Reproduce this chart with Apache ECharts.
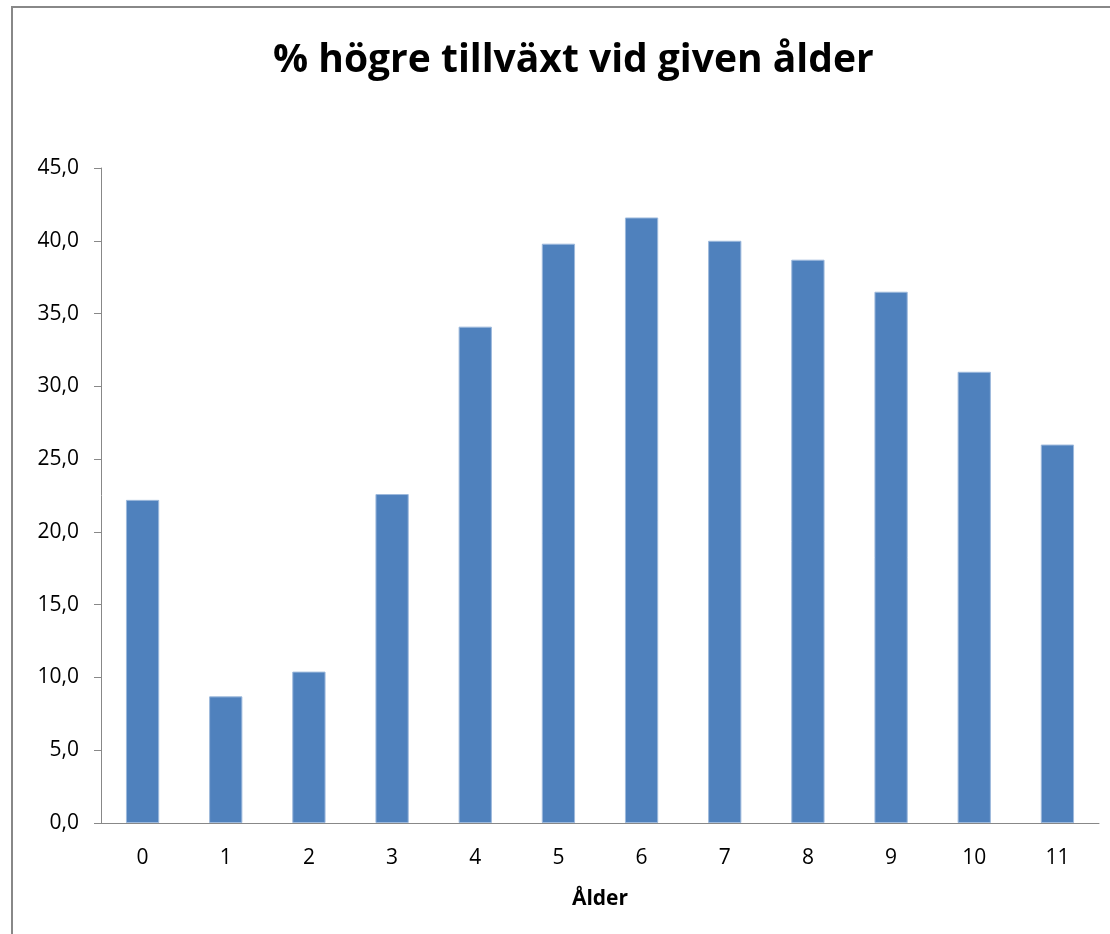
<!DOCTYPE html>
<html>
<head>
<meta charset="utf-8">
<script src="https://cdn.jsdelivr.net/npm/echarts@6/dist/echarts.min.js"></script>
<style>
  html, body { margin: 0; padding: 0; background: #fff; }
  #chart { width: 1110px; height: 934px; }
</style>
</head>
<body>
<div id="chart"></div>
<script>
const ages = ["0", "1", "2", "3", "4", "5", "6", "7", "8", "9", "10", "11"];
const growth = [22.2, 8.7, 10.4, 22.6, 34.1, 39.8, 41.6, 40.0, 38.7, 36.5, 31.0, 26.0];

const font = "'Open Sans', 'Noto Sans', sans-serif";

const chart = echarts.init(document.getElementById("chart"));
chart.setOption({
  animation: false,
  backgroundColor: "#fff",
  title: {
    text: "% högre tillväxt vid given ålder",
    left: 268,
    top: 36,
    textStyle: { fontFamily: font, fontWeight: "bold", fontSize: 39, color: "#000" },
  },
  graphic: [
    {
      type: "rect",
      shape: { x: 12, y: 7, width: 1200, height: 1000 },
      style: { fill: "none", stroke: "#888", lineWidth: 2 },
      silent: true,
    },
  ],
  grid: { left: 101, right: 11, top: 168, bottom: 111 },
  xAxis: {
    type: "category",
    data: ages,
    name: "Ålder",
    nameLocation: "middle",
    nameGap: 66,
    nameTextStyle: { fontFamily: font, fontWeight: "bold", fontSize: 21, color: "#000" },
    axisLine: { lineStyle: { color: "#888", width: 1 } },
    axisTick: { length: 9, lineStyle: { color: "#888" } },
    axisLabel: { fontFamily: font, fontSize: 21, color: "#000", margin: 25 },
  },
  yAxis: {
    type: "value",
    min: 0,
    max: 45,
    interval: 5,
    axisLine: { show: true, lineStyle: { color: "#888", width: 1 } },
    axisTick: { show: true, length: 7, lineStyle: { color: "#888" } },
    splitLine: { show: false },
    axisLabel: {
      fontFamily: font,
      fontSize: 21,
      color: "#000",
      margin: 22,
      formatter: (v) => v.toFixed(1).replace(".", ","),
    },
  },
  series: [
    {
      type: "bar",
      data: growth,
      barWidth: "40%",
      itemStyle: { color: "#4F81BD", borderColor: "#9DB9DC", borderWidth: 1 },
    },
  ],
});
</script>
</body>
</html>
